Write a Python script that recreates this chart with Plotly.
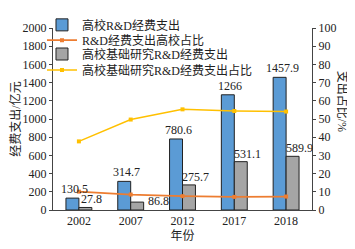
import plotly.graph_objects as go

years = ["2002", "2007", "2012", "2017", "2018"]
rd_total = [130.5, 314.7, 780.6, 1266, 1457.9]
rd_basic = [27.8, 86.8, 275.7, 531.1, 589.9]
share_total = [10.1, 8.5, 7.6, 7.2, 7.4]
share_basic = [37.7, 49.7, 55.3, 54.4, 54.1]
total_labels = ["130.5", "314.7", "780.6", "1266", "1457.9"]
basic_labels = ["27.8", "86.8", "275.7", "531.1", "589.9"]

FONT = "Liberation Serif, Noto Sans CJK SC, serif"
BLUE = "#5B9BD5"
GRAY = "#A5A5A5"
ORANGE = "#ED7D31"
YELLOW = "#FFC000"

fig = go.Figure()
fig.add_trace(go.Bar(x=years, y=rd_total, name="高校R&D经费支出", legend="legend",
                     marker=dict(color=BLUE, line=dict(color="#222222", width=1))))
fig.add_trace(go.Scatter(x=years, y=share_total, name="R&D经费支出高校占比", yaxis="y2",
                         legend="legend2",
                         mode="lines+markers", line=dict(color=ORANGE, width=1.8),
                         marker=dict(symbol="square", size=4, color=ORANGE)))
fig.add_trace(go.Bar(x=years, y=rd_basic, name="高校基础研究R&D经费支出", legend="legend3",
                     marker=dict(color=GRAY, line=dict(color="#222222", width=1))))
fig.add_trace(go.Scatter(x=years, y=share_basic, name="高校基础研究R&D经费支出占比", yaxis="y2",
                         legend="legend4",
                         mode="lines+markers", line=dict(color=YELLOW, width=1.5),
                         marker=dict(symbol="square", size=4, color=YELLOW)))

for i, (v, t) in enumerate(zip(rd_total, total_labels)):
    fig.add_annotation(x=i, y=v, text=t, showarrow=False, xshift=-4, yshift=9,
                       font=dict(family=FONT, size=12, color="#222"))
for i, (v, t) in enumerate(zip(rd_basic, basic_labels)):
    xs, ys = (28, 1) if t == "86.8" else (13, 8)
    fig.add_annotation(x=i, y=v, text=t, showarrow=False, xshift=xs, yshift=ys,
                       font=dict(family=FONT, size=12, color="#222"))

fig.add_annotation(xref="paper", yref="paper", x=1.116, y=0.6, xanchor="center",
                   yanchor="middle", text="支出占比/%",
                   textangle=90, showarrow=False, font=dict(family=FONT, size=12, color="#222"))

def leg(yc):
    return dict(x=-0.0425, xref="paper", y=yc, yref="container", xanchor="left",
                yanchor="middle", bgcolor="rgba(0,0,0,0)",
                font=dict(family=FONT, size=12, color="#222"), borderwidth=0)

# page body adds an 8px offset, so the figure is sized to fill the remaining window
fig.update_layout(
    width=347, height=241,
    margin=dict(l=45, r=43, t=20, b=39, autoexpand=False),
    paper_bgcolor="white", plot_bgcolor="white",
    font=dict(family=FONT, size=12, color="#222"),
    barmode="group", bargap=0.5, bargroupgap=0,
    showlegend=True,
    legend=leg(0.93), legend2=leg(0.8664), legend3=leg(0.8091), legend4=leg(0.7427),
    xaxis=dict(type="category", range=[-0.5, 4.5], showline=True, linecolor="#444",
               linewidth=1, ticks="", showgrid=False,
               title=dict(text="年份", font=dict(family=FONT, size=12), standoff=4)),
    yaxis=dict(range=[0, 2000], dtick=200, showline=True, linecolor="#444", linewidth=1,
               ticks="outside", ticklen=3, tickcolor="#444", showgrid=False, zeroline=False,
               title=dict(text="经费支出/亿元", font=dict(family=FONT, size=12), standoff=4)),
    yaxis2=dict(range=[0, 100], dtick=10, overlaying="y", side="right", showline=True,
                linecolor="#444", linewidth=1, ticks="outside", ticklen=3, tickcolor="#444",
                showgrid=False, zeroline=False),
)

fig.write_html("out.html")
